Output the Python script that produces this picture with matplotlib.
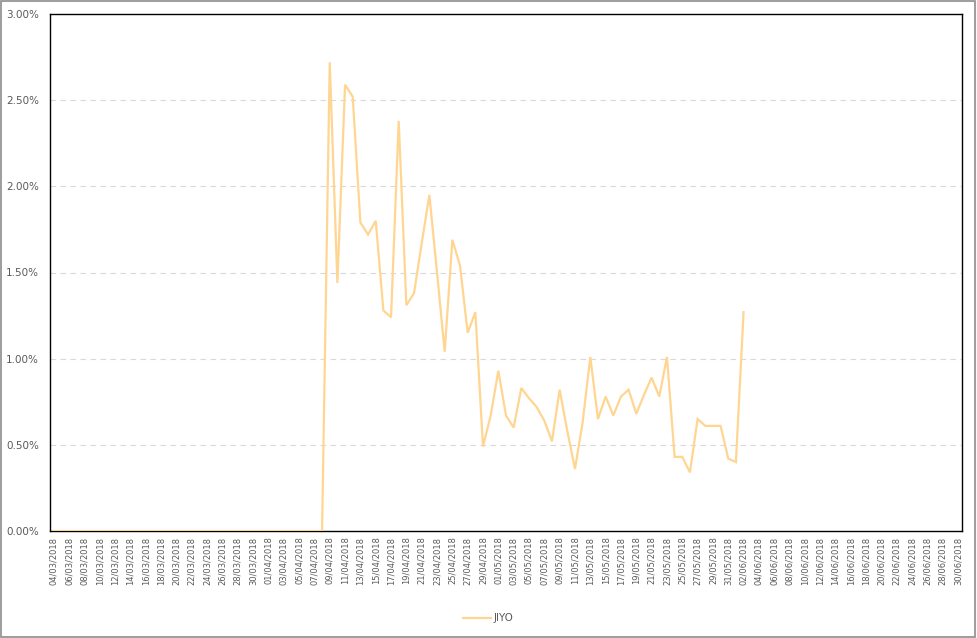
import numpy as np
import pandas as pd
import matplotlib
matplotlib.use("Agg")
import matplotlib.pyplot as plt
from matplotlib.patches import Rectangle
from matplotlib.ticker import FuncFormatter

# =========================
# DATA
# =========================
DATES = pd.date_range("2018-03-04", "2018-06-30", freq="D")
SERIES_NAME = "JIYO"

# 04/03 .. 08/04 sit on the zero line
ZERO_PART = [0.0] * 36
# 09/04 .. 02/06 (percent)
VALUE_PART = [
    2.72, 1.44, 2.59, 2.52, 1.79, 1.72, 1.80, 1.28, 1.24, 2.38,
    1.31, 1.38, 1.67, 1.95, 1.50, 1.04, 1.69, 1.54, 1.15, 1.27,
    0.49, 0.67, 0.93, 0.67, 0.60, 0.83, 0.77, 0.72, 0.64, 0.52,
    0.82, 0.58, 0.36, 0.63, 1.01, 0.65, 0.78, 0.67, 0.78, 0.82,
    0.68, 0.79, 0.89, 0.78, 1.01, 0.43, 0.43, 0.34, 0.65, 0.61,
    0.61, 0.61, 0.42, 0.40, 1.27,
]

YTICKS = [0.0, 0.5, 1.0, 1.5, 2.0, 2.5, 3.0]

# =========================
# STYLE
# =========================
LINE_COLOR = "#FFD592"
TEXT_COLOR = "#595959"
GRID_COLOR = "#D9D9D9"

values = np.full(len(DATES), np.nan)
values[:len(ZERO_PART)] = ZERO_PART
values[len(ZERO_PART):len(ZERO_PART) + len(VALUE_PART)] = VALUE_PART
x = np.arange(len(DATES))

fig = plt.figure(figsize=(9.77, 6.38), dpi=100)
ax = fig.add_axes([50 / 977, 1 - 531 / 638, 912 / 977, 517 / 638])

ax.plot(x, values, color=LINE_COLOR, linewidth=1.6, label=SERIES_NAME,
        solid_joinstyle="miter", zorder=3)

ax.set_xlim(-0.5, len(DATES) - 0.5)
ax.set_ylim(0, 3.0)

ax.set_yticks(YTICKS)
ax.yaxis.set_major_formatter(FuncFormatter(lambda v, p: f"{v:.2f}%"))
for yv in YTICKS[1:-1]:
    ax.axhline(yv, color=GRID_COLOR, linestyle=(0, (5, 4)), linewidth=0.8, zorder=1)

tick_pos = x[::2]
ax.set_xticks(tick_pos)
ax.set_xticklabels([DATES[i].strftime("%d/%m/%Y") for i in tick_pos],
                   rotation=90, fontsize=6, color=TEXT_COLOR)
ax.tick_params(axis="x", length=0, pad=4)
ax.tick_params(axis="y", length=0, pad=8, labelsize=7.5, labelcolor=TEXT_COLOR)

for spine in ax.spines.values():
    spine.set_color("black")
    spine.set_linewidth(1.0)

leg = fig.legend(loc="lower center", bbox_to_anchor=(0.5, 0.0), frameon=False,
                 fontsize=7.5, handlelength=2.6, handletextpad=0.3,
                 borderaxespad=1.0)
for t in leg.get_texts():
    t.set_color(TEXT_COLOR)

# outer chart border
fig.patches.append(Rectangle((0.001, 0.002), 0.997, 0.996, transform=fig.transFigure,
                             fill=False, edgecolor="#8C8C8C", linewidth=1.2))

fig.savefig("out.png", dpi=100)
